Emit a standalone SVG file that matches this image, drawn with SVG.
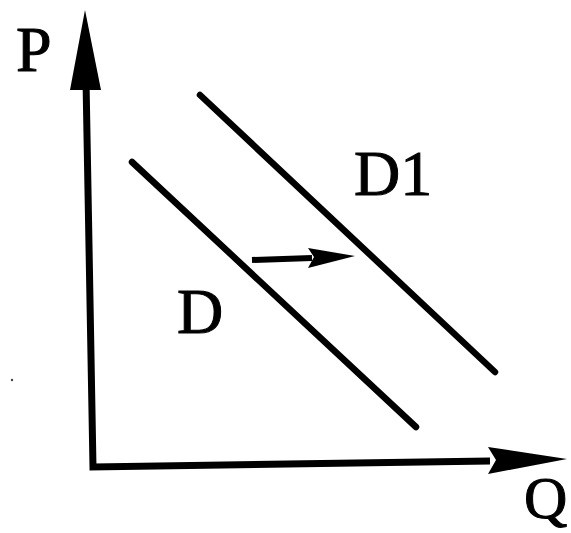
<svg xmlns="http://www.w3.org/2000/svg" width="571" height="533" viewBox="0 0 571 533">
<style>
.ax{stroke:#000;stroke-width:7;fill:none;stroke-linecap:butt}
.crv{stroke:#000;stroke-width:6.5;fill:none;stroke-linecap:round}
.lbl{font-family:"Liberation Serif",serif;font-size:64px;fill:#000;stroke:#000;stroke-width:1}
</style>
<rect width="571" height="533" fill="#fff"/>
<g id="connectors">
<polyline class="ax" points="86,80 93,467 490,461"/>
<polygon points="85,10 70,90 101,90" fill="#000"/>
<polygon points="567,459 488,447 496,460 488,474" fill="#000"/>
<line class="crv" x1="132" y1="162" x2="416" y2="427"/>
<line class="crv" x1="200" y1="95" x2="495" y2="372"/>
<line x1="252" y1="260" x2="312" y2="258" stroke="#000" stroke-width="6"/>
<polygon points="355,256 308,248 314,257 308,268" fill="#000"/>
</g>
<g id="P"><text class="lbl" x="16" y="71">P</text></g>
<g id="Q"><text class="lbl" x="524" y="518" style="font-size:60px">Q</text></g>
<g id="D"><text class="lbl" x="177" y="333">D</text></g>
<g id="D1"><text class="lbl" x="354" y="195">D1</text></g>
<circle cx="12" cy="380" r="1.2" fill="#444"/>
</svg>
